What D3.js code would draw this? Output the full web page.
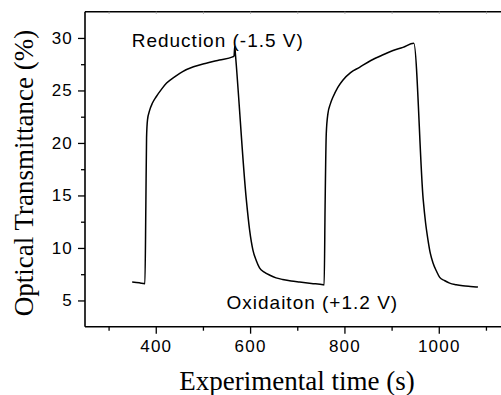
<!DOCTYPE html>
<html>
<head>
<meta charset="utf-8">
<script src="https://cdn.jsdelivr.net/npm/d3@7"></script>
<style>
  body { margin: 0; background: #fff; }
  svg { display: block; }
</style>
</head>
<body>
<div id="chart"></div>
<script>
// switching curve
const time = [350, 365, 377, 379, 380.5, 382.5, 387, 393, 401, 412, 423, 440, 457, 480, 507, 535, 563, 566, 567.5, 569,
  592, 599, 606, 613, 620, 630, 642, 655, 669, 687, 705, 730, 755, 757,
  759, 761.5, 765, 770, 776, 786, 797, 813, 832, 856, 882, 903, 924, 947,
  967, 972, 977, 982, 988, 995, 1002, 1012, 1023, 1037, 1051, 1067, 1083];
const transmittance = [6.75, 6.68, 6.6, 14.0, 20.5, 22.2, 23.1, 23.8, 24.4, 25.1, 25.7, 26.3, 26.8, 27.25, 27.6, 27.9, 28.2, 28.3, 29.2, 28.4,
  14.6, 11.7, 9.8, 8.8, 8.1, 7.7, 7.4, 7.15, 7.0, 6.85, 6.75, 6.62, 6.5, 6.48,
  14.0, 20.9, 22.8, 23.7, 24.4, 25.3, 26.0, 26.7, 27.2, 27.85, 28.4, 28.8, 29.1, 29.5,
  14.6, 12.4, 10.8, 9.5, 8.55, 7.8, 7.2, 6.9, 6.65, 6.5, 6.4, 6.33, 6.27];

const xTicks = [400, 600, 800, 1000];
const xMinor = [300, 500, 700, 900, 1100];
const yTicks = [5, 10, 15, 20, 25, 30];
const yMinor = [7.5, 12.5, 17.5, 22.5, 27.5];

const width = 501, height = 395;
const margin = { top: 11.7, left: 85, bottom: 68.3 };

const svg = d3.select("#chart").append("svg")
  .attr("width", width)
  .attr("height", height);

const x = d3.scaleLinear().domain([250, 1150]).range([margin.left, margin.left + 900 * 0.4717]);
const y = d3.scaleLinear().domain([2.5, 32.5]).range([height - margin.bottom, margin.top]);

const sans = "'Liberation Sans', Arial, sans-serif";
const serif = "'Liberation Serif', 'Times New Roman', serif";

// top frame with faint inward ticks
svg.append("g")
  .attr("transform", `translate(0,${y(32.5)})`)
  .call(d3.axisTop(x).tickValues(xTicks.concat(xMinor)).tickSize(-2).tickFormat(""))
  .call(g => g.select(".domain").attr("stroke-width", 1.5).attr("d", `M${x(250)},0H${width + 20}`))
  .call(g => g.selectAll(".tick line").attr("stroke", "#999"));

// bottom axis
const gx = svg.append("g")
  .attr("transform", `translate(0,${y(2.5)})`)
  .call(d3.axisBottom(x).tickValues(xTicks).tickSize(7).tickPadding(6).tickFormat(d3.format("d")))
  .call(g => g.select(".domain").attr("stroke-width", 1.6).attr("d", `M${x(250)},0H${width + 20}`))
  .call(g => g.selectAll(".tick line").attr("stroke-width", 1.3));
gx.selectAll(".tick text")
  .attr("font-family", sans).attr("font-size", 17).attr("letter-spacing", 1.2).attr("fill", "#000");

svg.append("g")
  .attr("transform", `translate(0,${y(2.5)})`)
  .call(d3.axisBottom(x).tickValues(xMinor).tickSize(4).tickFormat(""))
  .call(g => g.select(".domain").remove())
  .call(g => g.selectAll(".tick line").attr("stroke-width", 1.3));

// left axis
const gy = svg.append("g")
  .attr("transform", `translate(${x(250)},0)`)
  .call(d3.axisLeft(y).tickValues(yTicks).tickSize(7).tickPadding(5))
  .call(g => g.select(".domain").attr("stroke-width", 1.6).attr("d", `M0,${y(2.5)}V${y(32.5)}`))
  .call(g => g.selectAll(".tick line").attr("stroke-width", 1.3));
gy.selectAll(".tick text")
  .attr("font-family", sans).attr("font-size", 17).attr("letter-spacing", 1.2).attr("fill", "#000");

svg.append("g")
  .attr("transform", `translate(${x(250)},0)`)
  .call(d3.axisLeft(y).tickValues(yMinor).tickSize(4).tickFormat(""))
  .call(g => g.select(".domain").remove())
  .call(g => g.selectAll(".tick line").attr("stroke-width", 1.3));

// curve
const line = d3.line()
  .x((d, i) => x(time[i]))
  .y(d => y(d))
  .curve(d3.curveMonotoneX);

svg.append("path")
  .datum(transmittance)
  .attr("fill", "none")
  .attr("stroke", "#000")
  .attr("stroke-width", 1.5)
  .attr("d", line);

// annotations
svg.append("text")
  .attr("x", x(349)).attr("y", y(29.1))
  .attr("font-family", sans).attr("font-size", 19).attr("letter-spacing", 1)
  .text("Reduction (-1.5 V)");

svg.append("text")
  .attr("x", x(550)).attr("y", y(4.2))
  .attr("font-family", sans).attr("font-size", 19).attr("letter-spacing", 1)
  .text("Oxidaiton (+1.2 V)");

// axis titles
svg.append("text")
  .attr("x", 297).attr("y", 389.5)
  .attr("text-anchor", "middle")
  .attr("font-family", serif).attr("font-size", 27)
  .text("Experimental time (s)");

svg.append("text")
  .attr("transform", `translate(33,173) rotate(-90)`)
  .attr("text-anchor", "middle")
  .attr("font-family", serif).attr("font-size", 27)
  .text("Optical Transmittance (%)");
</script>
</body>
</html>
